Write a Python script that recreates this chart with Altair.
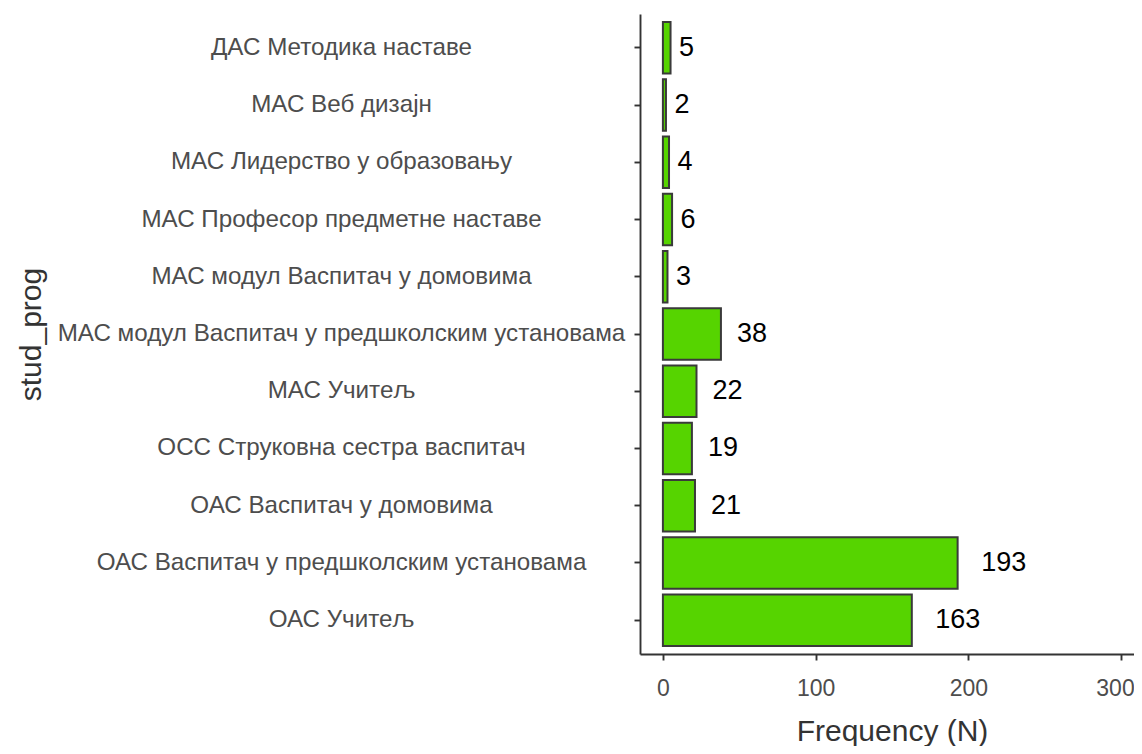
import altair as alt
import pandas as pd

programs = [
    "ДАС Методика наставе",
    "МАС Веб дизајн",
    "МАС Лидерство у образовању",
    "МАС Професор предметне наставе",
    "МАС модул Васпитач у домовима",
    "МАС модул Васпитач у предшколским установама",
    "МАС Учитељ",
    "ОСС Струковна сестра васпитач",
    "ОАС Васпитач у домовима",
    "ОАС Васпитач у предшколским установама",
    "ОАС Учитељ",
]
counts = [5, 2, 4, 6, 3, 38, 22, 19, 21, 193, 163]
x_ticks = [0, 100, 200, 300]

df = pd.DataFrame({"stud_prog": programs, "n": counts})
df["digits"] = df["n"].astype(str).str.len()

FONT = "Liberation Sans"
GREEN = "#56d400"
DARK = "#333333"

y_enc = alt.Y(
    "stud_prog:N",
    sort=programs,
    scale=alt.Scale(paddingInner=0.1, paddingOuter=0.14),
    axis=alt.Axis(
        title="stud_prog",
        titleFont=FONT,
        titleFontSize=30,
        titleFontWeight="normal",
        titleColor=DARK,
        titleX=-600,
        titleY=320,
        titleAngle=270,
        titleAlign="center",
        titleBaseline="alphabetic",
        labelFont=FONT,
        labelFontSize=24.2,
        labelColor="#4d4d4d",
        labelAlign="center",
        labelBaseline="middle",
        labelPadding=293,
        labelLimit=0,
        tickSize=6,
        tickColor=DARK,
        tickWidth=1.9,
        domainColor=DARK,
        domainWidth=1.9,
        grid=False,
    ),
)

x_scale = alt.Scale(domain=[-15, 308.5], nice=False, zero=False)

bars = alt.Chart(df).mark_bar(
    fill=GREEN, stroke="#3a3a3a", strokeWidth=2
).encode(
    x=alt.X(
        "n:Q",
        scale=x_scale,
        axis=alt.Axis(
            title="Frequency (N)",
            values=x_ticks,
            titleFont=FONT,
            titleFontSize=30,
            titleFontWeight="normal",
            titleColor=DARK,
            titleX=252,
            titleY=86,
            titleAlign="center",
            titleBaseline="alphabetic",
            labelFont=FONT,
            labelFontSize=23,
            labelColor="#4d4d4d",
            labelPadding=17,
            labelOffset={"condition": {"test": "datum.value == 300", "value": -6}, "value": 0},
            tickSize=6,
            tickColor=DARK,
            tickWidth=1.9,
            domainColor=DARK,
            domainWidth=1.9,
            grid=False,
        ),
    ),
    x2=alt.datum(0),
    y=y_enc,
)

def label_layer(d, dx):
    return alt.Chart(df).transform_filter(
        alt.datum.digits == d
    ).mark_text(
        align="left", baseline="middle", font=FONT, fontSize=27, color="black", dx=dx
    ).encode(
        x=alt.X("n:Q", scale=x_scale),
        y=alt.Y("stud_prog:N", sort=programs),
        text="n:Q",
    )

chart = alt.layer(
    bars, label_layer(1, 8.5), label_layer(2, 16), label_layer(3, 23.5)
).properties(
    width=494,
    height=640,
    background="white",
    autosize=alt.AutoSizeParams(type="none"),
    padding={"left": 632, "top": 6, "right": 0, "bottom": 92},
).configure_view(stroke=None)

chart.save("out.html", embed_options={"renderer": "svg", "actions": False})
